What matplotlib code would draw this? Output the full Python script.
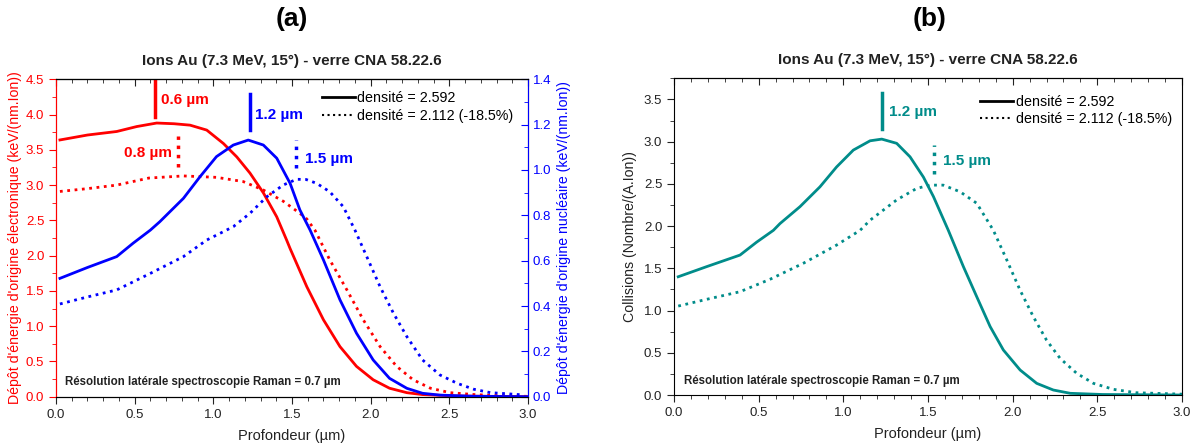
import matplotlib
matplotlib.use('Agg')
import matplotlib.pyplot as plt
from matplotlib.ticker import MultipleLocator
from matplotlib.lines import Line2D

plt.rcParams['font.family'] = ['Liberation Sans', 'DejaVu Sans']

# (a) dépôt électronique (axe gauche, keV/(nm.Ion))
x_el = [0.025, 0.2, 0.386, 0.513, 0.64, 0.75, 0.852, 0.958, 1.064, 1.149, 1.233, 1.318, 1.403, 1.466,
        1.488, 1.594, 1.70, 1.805, 1.91, 2.016, 2.12, 2.23, 2.33, 2.55, 3.0]
el_dense = [3.64, 3.71, 3.76, 3.83, 3.88, 3.87, 3.85, 3.78, 3.59, 3.40, 3.17, 2.89, 2.55, 2.22,
            2.10, 1.56, 1.09, 0.71, 0.43, 0.24, 0.12, 0.057, 0.03, 0.01, 0.0]

x_el2 = [0.025, 0.2, 0.386, 0.59, 0.81, 1.02, 1.19, 1.318, 1.445, 1.55, 1.594, 1.646, 1.74, 1.85,
         1.953, 2.06, 2.165, 2.27, 2.38, 2.505, 2.66, 2.87, 3.0]
el_light = [2.91, 2.95, 3.0, 3.10, 3.13, 3.11, 3.05, 2.93, 2.77, 2.60, 2.52, 2.36, 1.94, 1.51,
            1.09, 0.71, 0.43, 0.24, 0.12, 0.057, 0.03, 0.01, 0.005]

# (a) dépôt nucléaire (axe droit, keV/(nm.Ion))
x_nu = [0.025, 0.2, 0.386, 0.49, 0.6, 0.66, 0.81, 0.915, 1.02, 1.127, 1.222, 1.318, 1.403, 1.488,
        1.55, 1.615, 1.70, 1.805, 1.91, 2.016, 2.12, 2.23, 2.33, 2.44, 2.65, 3.0]
nu_dense = [0.522, 0.57, 0.618, 0.677, 0.735, 0.772, 0.875, 0.97, 1.059, 1.11, 1.132, 1.11, 1.052, 0.941,
            0.824, 0.735, 0.603, 0.427, 0.28, 0.162, 0.081, 0.037, 0.015, 0.007, 0.002, 0.0]

x_nu2 = [0.025, 0.2, 0.386, 0.6, 0.81, 0.958, 1.127, 1.233, 1.34, 1.445, 1.53, 1.59, 1.657, 1.74,
         1.826, 1.90, 1.975, 2.06, 2.145, 2.23, 2.33, 2.44, 2.55, 2.655, 2.76, 2.97]
nu_light = [0.409, 0.44, 0.471, 0.544, 0.618, 0.691, 0.75, 0.809, 0.882, 0.934, 0.959, 0.958, 0.941, 0.904,
            0.838, 0.735, 0.618, 0.485, 0.368, 0.265, 0.162, 0.096, 0.059, 0.033, 0.018, 0.008]

# (b) collisions (Nombre/(A.Ion))
x_col = [0.025, 0.193, 0.39, 0.488, 0.587, 0.626, 0.744, 0.862, 0.96, 1.059, 1.158, 1.227, 1.315, 1.394,
         1.473, 1.532, 1.62, 1.709, 1.788, 1.867, 1.945, 2.044, 2.142, 2.24, 2.34, 2.53, 3.0]
col_dense = [1.40, 1.52, 1.657, 1.81, 1.95, 2.03, 2.23, 2.465, 2.70, 2.90, 3.01, 3.03, 2.98, 2.82,
             2.58, 2.35, 1.95, 1.52, 1.163, 0.81, 0.533, 0.296, 0.138, 0.059, 0.02, 0.006, 0.0]

x_col2 = [0.025, 0.193, 0.39, 0.567, 0.764, 0.96, 1.099, 1.158, 1.315, 1.433, 1.512, 1.59, 1.69, 1.788,
          1.886, 1.965, 2.044, 2.122, 2.20, 2.28, 2.378, 2.477, 2.595, 2.73, 3.0]
col_light = [1.053, 1.133, 1.223, 1.37, 1.56, 1.775, 1.95, 2.07, 2.31, 2.446, 2.485, 2.485, 2.406, 2.27,
             1.95, 1.60, 1.24, 0.927, 0.65, 0.434, 0.257, 0.138, 0.067, 0.027, 0.01]

leg_labels = ['densité = 2.592', 'densité = 2.112 (-18.5%)']
title = 'Ions Au (7.3 MeV, 15°) - verre CNA 58.22.6'
note = 'Résolution latérale spectroscopie Raman = 0.7 µm'

RED = '#ff0000'
BLUE = '#0000ff'
TEAL = '#008c8a'
DARK = '#222222'

fig = plt.figure(figsize=(11.99, 4.48), dpi=100)
axa = fig.add_axes([56 / 1199, 51.3 / 448, 472 / 1199, 317.4 / 448])
axb = fig.add_axes([674 / 1199, 53 / 448, 508 / 1199, 316.7 / 448])


def style_x(ax):
    ax.set_xlim(0, 3.0)
    ax.xaxis.set_major_locator(MultipleLocator(0.5))
    ax.xaxis.set_minor_locator(MultipleLocator(0.1))
    ax.tick_params(axis='x', which='major', direction='out', length=5, labelsize=9.5, colors=DARK)
    ax.tick_params(axis='x', which='minor', direction='out', length=3, colors=DARK)
    ax.set_xlabel('Profondeur (µm)', fontsize=10.5, labelpad=6, color=DARK)
    top = ax.secondary_xaxis('top')
    top.xaxis.set_major_locator(MultipleLocator(0.5))
    top.xaxis.set_minor_locator(MultipleLocator(0.1))
    top.tick_params(which='major', direction='in', length=5, labeltop=False, colors=DARK)
    top.tick_params(which='minor', direction='in', length=3, colors=DARK)
    ax.set_title(title, fontsize=11, fontweight='bold', pad=10, color=DARK)


# ---- (a)
style_x(axa)
axa.plot(x_el, el_dense, color=RED, lw=2)
axa.plot(x_el2, el_light, color=RED, lw=2, ls=':')
axa.set_ylim(0, 4.5)
axa.yaxis.set_major_locator(MultipleLocator(0.5))
axa.yaxis.set_minor_locator(MultipleLocator(0.25))
axa.tick_params(axis='y', which='major', direction='out', length=5, labelsize=9.5, colors=RED)
axa.tick_params(axis='y', which='minor', direction='out', length=3, colors=RED)
axa.spines['left'].set_color(RED)
axa.set_ylabel("Dépôt d'énergie d'origine électronique (keV/(nm.Ion))", color=RED, fontsize=10.2, labelpad=3)

axn = axa.twinx()
axn.plot(x_nu, nu_dense, color=BLUE, lw=2)
axn.plot(x_nu2, nu_light, color=BLUE, lw=2, ls=':')
axn.set_ylim(0, 1.4)
axn.yaxis.set_major_locator(MultipleLocator(0.2))
axn.yaxis.set_minor_locator(MultipleLocator(0.1))
axn.tick_params(axis='y', which='major', direction='in', length=5, labelsize=9.5, colors=BLUE)
axn.tick_params(axis='y', which='minor', direction='in', length=3, colors=BLUE)
axn.spines['right'].set_color(BLUE)
axn.spines['left'].set_color(RED)
axn.set_ylabel("Dépôt d'énergie d'origine nucléaire (keV/(nm.Ion))", color=BLUE, fontsize=10.2, labelpad=4)

# repères des maxima
axa.plot([0.629, 0.629], [3.97, 4.47], color=RED, lw=2.5)
axa.text(0.667, 4.20, '0.6 µm', color=RED, fontsize=11, fontweight='bold', va='center')
axa.plot([0.778, 0.778], [3.26, 3.69], color=RED, lw=2.5, ls=':')
axa.text(0.735, 3.45, '0.8 µm', color=RED, fontsize=11, fontweight='bold', va='center', ha='right')
axa.plot([1.233, 1.233], [3.78, 4.29], color=BLUE, lw=2.5)
axa.text(1.265, 4.0, '1.2 µm', color=BLUE, fontsize=11, fontweight='bold', va='center')
axa.plot([1.526, 1.526], [3.24, 3.64], color=BLUE, lw=2.5, ls=':')
axa.text(1.583, 3.37, '1.5 µm', color=BLUE, fontsize=11, fontweight='bold', va='center')

axa.text(0.019, 0.045, note, transform=axa.transAxes, fontsize=8.3, fontweight='bold', color=DARK, va='center')

handles = [Line2D([], [], color='black', lw=2), Line2D([], [], color='black', lw=1.5, ls=':')]
axn.legend(handles, leg_labels, loc='upper left', bbox_to_anchor=(0.563, 0.962), frameon=False,
           fontsize=10.3, handlelength=2.3, handletextpad=0.2, labelspacing=0.25, borderaxespad=0,
           borderpad=0)

fig.text(292 / 1199, 1 - 19 / 448, '(a)', ha='center', va='center', fontsize=19, fontweight='bold')

# ---- (b)
style_x(axb)
axb.plot(x_col, col_dense, color=TEAL, lw=2)
axb.plot(x_col2, col_light, color=TEAL, lw=2, ls=':')
axb.set_ylim(0, 3.75)
axb.yaxis.set_major_locator(MultipleLocator(0.5))
axb.yaxis.set_minor_locator(MultipleLocator(0.25))
axb.tick_params(axis='y', which='major', direction='out', length=5, labelsize=9.5, colors=DARK)
axb.tick_params(axis='y', which='minor', direction='out', length=3, colors=DARK)
axb.set_ylabel('Collisions (Nombre/(A.Ion))', fontsize=10.2, labelpad=5, color=DARK)

axb.plot([1.23, 1.23], [3.144, 3.578], color=TEAL, lw=2.5)
axb.text(1.272, 3.35, '1.2 µm', color=TEAL, fontsize=11, fontweight='bold', va='center')
axb.plot([1.536, 1.536], [2.62, 2.96], color=TEAL, lw=2.5, ls=':')
axb.text(1.587, 2.77, '1.5 µm', color=TEAL, fontsize=11, fontweight='bold', va='center')

axb.text(0.019, 0.045, note, transform=axb.transAxes, fontsize=8.3, fontweight='bold', color=DARK, va='center')

axb.legend(handles, leg_labels, loc='upper left', bbox_to_anchor=(0.602, 0.948), frameon=False,
           fontsize=10.3, handlelength=2.3, handletextpad=0.2, labelspacing=0.25, borderaxespad=0,
           borderpad=0)

fig.text(930 / 1199, 1 - 19 / 448, '(b)', ha='center', va='center', fontsize=19, fontweight='bold')

fig.savefig('out.png', dpi=100)
